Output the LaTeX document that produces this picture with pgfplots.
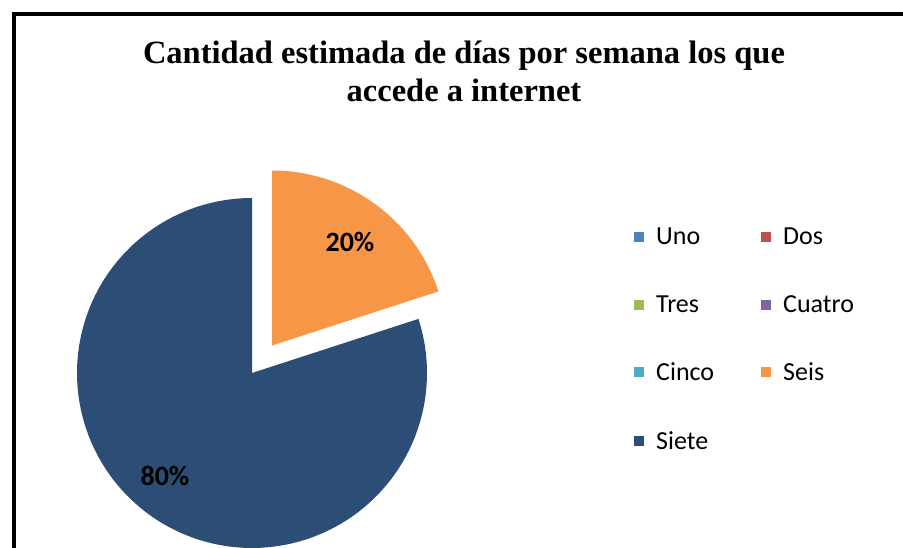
\documentclass[border=0pt]{standalone}
\usepackage{fontspec}
\setmainfont{Liberation Serif}
\newfontfamily\carlito{Carlito}
\usepackage{pgfplots}
\pgfplotsset{compat=1.18}

% Excel 2007 palette
\definecolor{cUno}{HTML}{4F81BD}
\definecolor{cDos}{HTML}{C0504D}
\definecolor{cTres}{HTML}{9BBB59}
\definecolor{cCuatro}{HTML}{8064A2}
\definecolor{cCinco}{HTML}{4BACC6}
\definecolor{cSeis}{HTML}{F79646}
\definecolor{cSiete}{HTML}{2C4D75}

% percentages (Uno..Cinco are 0)
\def\pctSeis{20}
\def\pctSiete{80}

\begin{document}
\begin{tikzpicture}
\begin{axis}[
    x=1pt, y=1pt,
    xmin=0, xmax=903, ymin=0, ymax=548,
    hide axis,
    legend image code/.code={\fill[#1] (0pt,-5pt) rectangle (10pt,5pt); \path (20pt,0pt);},
    legend columns=2,
    legend cell align=left,
    legend style={at={(axis cs:634,322)}, anchor=north west, draw=none, fill=none,
        font=\carlito\fontsize{26}{30}\selectfont, row sep=45pt, inner sep=0pt,
        /tikz/every even column/.append style={column sep=45pt}},
]
\fill[white] (axis cs:0,0) rectangle (axis cs:903,548);

\addlegendimage{fill=cUno, draw=none}\addlegendentry{Uno}
\addlegendimage{fill=cDos, draw=none}\addlegendentry{Dos}
\addlegendimage{fill=cTres, draw=none}\addlegendentry{Tres}
\addlegendimage{fill=cCuatro, draw=none}\addlegendentry{Cuatro}
\addlegendimage{fill=cCinco, draw=none}\addlegendentry{Cinco}
\addlegendimage{fill=cSeis, draw=none}\addlegendentry{Seis}
\addlegendimage{fill=cSiete, draw=none}\addlegendentry{Siete}

% Siete slice
\addplot[forget plot, fill=cSiete, draw=none, domain=90:90+3.6*\pctSiete, samples=150, variable=\t]
    ({252+175*cos(t)}, {175+175*sin(t)}) -- (axis cs:252,175) -- cycle;
% Seis slice (exploded)
\addplot[forget plot, fill=cSeis, draw=none, domain=90-3.6*\pctSeis:90, samples=60, variable=\t]
    ({272+175*cos(t)}, {202.5+175*sin(t)}) -- (axis cs:272,202.5) -- cycle;

\node[font=\carlito\bfseries\fontsize{28}{30}\selectfont] at (axis cs:350,306) {\pctSeis\%};
\node[font=\carlito\bfseries\fontsize{28}{30}\selectfont] at (axis cs:165,72) {\pctSiete\%};

\node[font=\bfseries\fontsize{32.5}{38}\selectfont, align=center] at (axis cs:464,477)
    {Cantidad estimada de días por semana los que\\accede a internet};

\draw[line width=4pt] (axis cs:14,0) -- (axis cs:14,534) -- (axis cs:903,534);
\end{axis}
\end{tikzpicture}
\end{document}
